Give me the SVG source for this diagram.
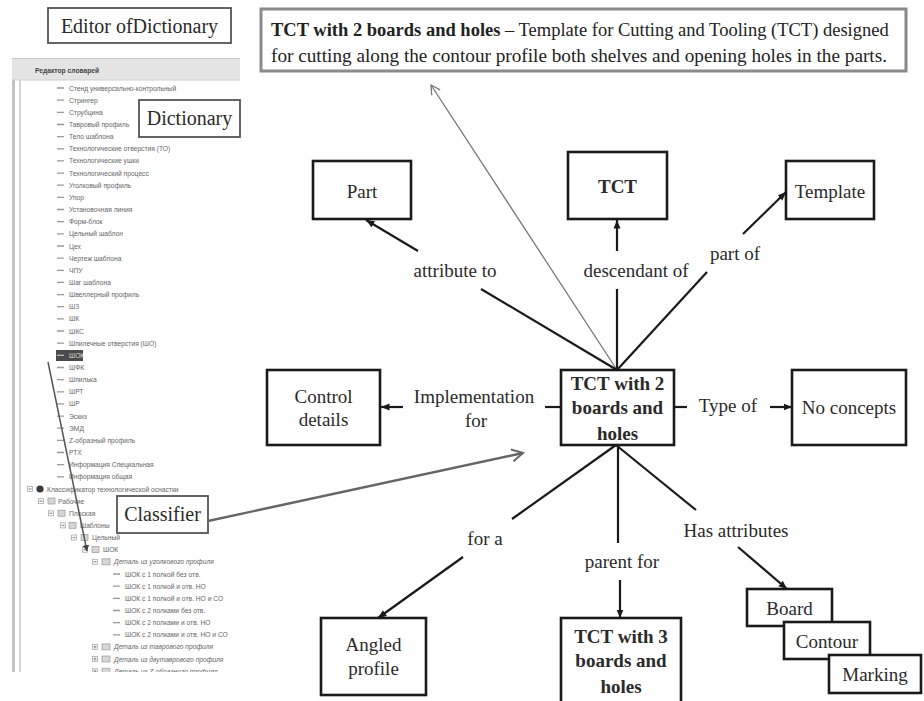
<svg xmlns="http://www.w3.org/2000/svg" width="924" height="701" viewBox="0 0 924 701">
<defs>
<style>
.box{fill:#fff;stroke:#1a1a1a;stroke-width:2.6}
.cap{fill:#fff;stroke:#555;stroke-width:1.8}
.t{font-family:"Liberation Serif","Times New Roman",serif;font-size:19px;fill:#2a2a2a;text-anchor:middle}
.b{font-weight:bold}
.c{stroke:#1a1a1a;stroke-width:2.2;fill:none}
.ca{stroke:#1a1a1a;stroke-width:2.2;fill:none;marker-end:url(#ah)}
.g{font-family:"Liberation Sans",Arial,sans-serif;font-size:6.7px;fill:#666}
.gi{font-style:italic}
.d{stroke:#999;stroke-width:1.3;fill:none}
.ex{fill:#fff;stroke:#aaa;stroke-width:0.8}
.fo{fill:#d6d6d6;stroke:#999;stroke-width:0.7}
</style>
<marker id="ah" markerUnits="userSpaceOnUse" markerWidth="10" markerHeight="9" refX="8.5" refY="4" orient="auto"><path d="M0,0.5 L8.5,4 L0,7.5 z" fill="#1a1a1a"/></marker>
<marker id="open" markerUnits="userSpaceOnUse" markerWidth="16" markerHeight="16" refX="12" refY="7" orient="auto"><path d="M1,1 L12,7 L1,13" fill="none" stroke="#666" stroke-width="2"/></marker>
<marker id="open2" markerUnits="userSpaceOnUse" markerWidth="14" markerHeight="14" refX="10" refY="6" orient="auto"><path d="M1,1 L10,6 L1,11" fill="none" stroke="#777" stroke-width="1.3"/></marker>
<marker id="sm" markerUnits="userSpaceOnUse" markerWidth="8" markerHeight="8" refX="6" refY="3.5" orient="auto"><path d="M0,0 L6,3.5 L0,7 z" fill="#444"/></marker>
<clipPath id="pc"><rect x="10" y="56" width="232" height="616"/></clipPath>
</defs>
<rect width="924" height="701" fill="#fff"/>

<!-- screenshot of the dictionary editor -->
<g id="screenshot" clip-path="url(#pc)">
<rect x="12" y="58" width="228" height="22" fill="#e4e4e4"/>
<line x1="12" y1="58.5" x2="240" y2="58.5" stroke="#c8c8c8" stroke-width="1"/>
<line x1="12" y1="80" x2="240" y2="80" stroke="#d0d0d0" stroke-width="1"/>
<text x="35" y="72.5" class="g" style="font-weight:bold;fill:#444">Редактор словарей</text>
<rect x="12" y="80" width="3" height="592" fill="#c4c4c4"/>
<rect x="19" y="80" width="2" height="592" fill="#d4d4d4"/>
<path class="d" d="M57,88h7M57,100.2h7M57,112.3h7M57,124.5h7M57,136.6h7M57,148.8h7M57,160.9h7M57,173.1h7M57,185.2h7M57,197.4h7M57,209.5h7M57,221.7h7M57,233.8h7M57,246h7M57,258.1h7M57,270.3h7M57,282.4h7M57,294.6h7M57,306.7h7M57,318.9h7M57,331h7M57,343.2h7M57,367.5h7M57,379.6h7M57,391.8h7M57,403.9h7M57,416.1h7M57,428.2h7M57,440.4h7M57,452.5h7M57,464.7h7M57,476.8h7M113,574h7M113,586.2h7M113,598.3h7M113,610.5h7M113,622.6h7M113,634.8h7"/>
<text class="g" x="69" y="90.5">Стенд универсально-контрольный</text>
<text class="g" x="69" y="102.6">Стрингер</text>
<text class="g" x="69" y="114.8">Струбцина</text>
<text class="g" x="69" y="127">Тавровый профиль</text>
<text class="g" x="69" y="139.1">Тело шаблона</text>
<text class="g" x="69" y="151.3">Технологические отверстия (ТО)</text>
<text class="g" x="69" y="163.4">Технологические ушки</text>
<text class="g" x="69" y="175.6">Технологический процесс</text>
<text class="g" x="69" y="187.7">Уголковый профиль</text>
<text class="g" x="69" y="199.9">Упор</text>
<text class="g" x="69" y="212">Установочная линия</text>
<text class="g" x="69" y="224.2">Форм-блок</text>
<text class="g" x="69" y="236.3">Цельный шаблон</text>
<text class="g" x="69" y="248.5">Цех</text>
<text class="g" x="69" y="260.6">Чертеж шаблона</text>
<text class="g" x="69" y="272.8">ЧПУ</text>
<text class="g" x="69" y="284.9">Шаг шаблона</text>
<text class="g" x="69" y="297.1">Швеллерный профиль</text>
<text class="g" x="69" y="309.2">ШЗ</text>
<text class="g" x="69" y="321.4">ШК</text>
<text class="g" x="69" y="333.5">ШКС</text>
<text class="g" x="69" y="345.7">Шпилечные отверстия (ШО)</text>
<rect x="56" y="350" width="27" height="11" fill="#4a4a4a"/>
<line x1="57" y1="355.3" x2="64" y2="355.3" stroke="#bbb" stroke-width="1.3"/>
<text class="g" x="69" y="357.8" style="fill:#ddd">ШОК</text>
<text class="g" x="69" y="370">ШФК</text>
<text class="g" x="69" y="382.1">Шпилька</text>
<text class="g" x="69" y="394.3">ШРТ</text>
<text class="g" x="69" y="406.4">ШР</text>
<text class="g" x="69" y="418.6">Эскиз</text>
<text class="g" x="69" y="430.7">ЭМД</text>
<text class="g" x="69" y="442.9">Z-образный профиль</text>
<text class="g" x="69" y="455">РТХ</text>
<text class="g" x="69" y="467.2">Информация Специальная</text>
<text class="g" x="69" y="479.3">Информация общая</text>
<!-- classifier tree -->
<rect class="ex" x="27.5" y="486.5" width="5" height="5"/><path class="d" d="M28.5,489h3"/>
<circle cx="40" cy="489" r="3.6" fill="#3a3a3a"/>
<text class="g" x="47" y="491.5">Классификатор технологической оснастки</text>
<rect class="ex" x="38.5" y="498.6" width="5" height="5"/><path class="d" d="M39.5,501.1h3"/>
<rect class="fo" x="48" y="498" width="7" height="6"/>
<text class="g" x="58" y="503.6">Рабочие</text>
<rect class="ex" x="48.5" y="510.8" width="5" height="5"/><path class="d" d="M49.5,513.3h3"/>
<rect class="fo" x="58" y="510.2" width="7" height="6"/>
<text class="g" x="69" y="515.8">Плоская</text>
<rect class="ex" x="60.5" y="522.9" width="5" height="5"/><path class="d" d="M61.5,525.4h3"/>
<rect class="fo" x="69" y="522.3" width="7" height="6"/>
<text class="g" x="80" y="527.9">Шаблоны</text>
<rect class="ex" x="71.5" y="535" width="5" height="5"/><path class="d" d="M72.5,537.5h3"/>
<rect class="fo" x="81" y="534.5" width="7" height="6"/>
<text class="g" x="92" y="540">Цельный</text>
<rect class="ex" x="82.5" y="547.2" width="5" height="5"/><path class="d" d="M83.5,549.7h3"/>
<rect class="fo" x="92" y="546.6" width="7" height="6"/>
<text class="g" x="103" y="552.2">ШОК</text>
<rect class="ex" x="92.5" y="559.3" width="5" height="5"/><path class="d" d="M93.5,561.8h3"/>
<rect class="fo" x="102" y="558.8" width="8" height="6"/>
<text class="g gi" x="114" y="564.4">Деталь из уголкового профиля</text>
<text class="g" x="125" y="576.5">ШОК с 1 полкой без отв.</text>
<text class="g" x="125" y="588.7">ШОК с 1 полкой и отв. НО</text>
<text class="g" x="125" y="600.8">ШОК с 1 полкой и отв. НО и СО</text>
<text class="g" x="125" y="613">ШОК с 2 полками без отв.</text>
<text class="g" x="125" y="625.1">ШОК с 2 полками и отв. НО</text>
<text class="g" x="125" y="637.3">ШОК с 2 полками и отв. НО и СО</text>
<rect class="ex" x="92.5" y="644.4" width="5" height="5"/><path class="d" d="M93.5,646.9h3M95,645.4v3"/>
<rect class="fo" x="102" y="643.9" width="8" height="6"/>
<text class="g gi" x="114" y="649.4">Деталь из таврового профиля</text>
<rect class="ex" x="92.5" y="656.6" width="5" height="5"/><path class="d" d="M93.5,659.1h3M95,657.6v3"/>
<rect class="fo" x="102" y="656" width="8" height="6"/>
<text class="g gi" x="114" y="661.6">Деталь из двутаврового профиля</text>
<rect class="ex" x="92.5" y="668.7" width="5" height="5"/><path class="d" d="M93.5,671.2h3M95,669.7v3"/>
<rect class="fo" x="102" y="668.2" width="8" height="6"/>
<text class="g gi" x="114" y="673.7">Деталь из Z-образного профиля</text>
<line x1="48" y1="362" x2="87" y2="551" stroke="#555" stroke-width="1.5" marker-end="url(#sm)"/>
</g>

<!-- caption boxes -->
<g id="editor-caption"><rect class="cap" x="48" y="8" width="183" height="35"/><text class="t" x="139.5" y="33" style="font-size:20px">Editor ofDictionary</text></g>
<g id="dictionary-caption"><rect class="cap" x="139" y="100" width="101" height="37"/><text class="t" x="189.5" y="125" style="font-size:20px">Dictionary</text></g>
<g id="classifier-caption"><rect class="cap" x="117" y="496" width="91" height="37"/><text class="t" x="162.5" y="521" style="font-size:20px">Classifier</text></g>

<g id="definition">
<rect x="261" y="9" width="645" height="62" fill="#fff" stroke="#8a8a8a" stroke-width="3"/>
<text x="271" y="36" style="font-family:'Liberation Serif','Times New Roman',serif;font-size:18.5px;fill:#222"><tspan font-weight="bold">TCT with 2 boards and holes</tspan> – Template for Cutting and Tooling (TCT) designed</text>
<text x="271" y="62" textLength="616" lengthAdjust="spacingAndGlyphs" style="font-family:'Liberation Serif','Times New Roman',serif;font-size:18.5px;fill:#222">for cutting along the contour profile both shelves and opening holes in the parts.</text>
</g>

<!-- connectors -->
<g id="connectors">
<line x1="617" y1="370" x2="431" y2="85" stroke="#777" stroke-width="1.3" marker-end="url(#open2)"/>
<line class="c" x1="617" y1="370" x2="481" y2="289"/>
<line class="ca" x1="418" y1="251" x2="366" y2="220"/>
<line class="c" x1="617" y1="370" x2="617" y2="289"/>
<line class="ca" x1="617" y1="251" x2="617" y2="220"/>
<line class="c" x1="617" y1="370" x2="707" y2="272"/>
<line class="ca" x1="743" y1="234" x2="786" y2="192"/>
<line class="c" x1="561" y1="407" x2="545" y2="407"/>
<line class="ca" x1="403" y1="407" x2="381" y2="407"/>
<line class="c" x1="674" y1="407" x2="687" y2="407"/>
<line class="ca" x1="770" y1="407" x2="792" y2="407"/>
<line class="c" x1="616" y1="445" x2="512" y2="519"/>
<line class="ca" x1="463" y1="557" x2="378" y2="618"/>
<line class="c" x1="618" y1="445" x2="618" y2="543"/>
<line class="ca" x1="620" y1="580" x2="620" y2="618"/>
<line class="c" x1="616" y1="445" x2="696" y2="510"/>
<line class="ca" x1="738" y1="547" x2="787" y2="589"/>
<line x1="208" y1="521" x2="523" y2="453" stroke="#666" stroke-width="2.4" marker-end="url(#open)"/>
<text class="t" x="455" y="277">attribute to</text>
<text class="t" x="636" y="277">descendant of</text>
<text class="t" x="735" y="260">part of</text>
<text class="t" x="474" y="403">Implementation</text>
<text class="t" x="476" y="427">for</text>
<text class="t" x="728" y="412">Type of</text>
<text class="t" x="485" y="545">for a</text>
<text class="t" x="622" y="568">parent for</text>
<text class="t" x="736" y="537">Has attributes</text>
</g>

<!-- nodes -->
<g id="node-part"><rect class="box" x="313" y="161" width="98" height="58"/><text class="t" x="362" y="198">Part</text></g>
<g id="node-tct"><rect class="box" x="568" y="152" width="99" height="67"/><text class="t b" x="617.5" y="193">TCT</text></g>
<g id="node-template"><rect class="box" x="786" y="161" width="88" height="58"/><text class="t" x="830" y="198">Template</text></g>
<g id="node-control"><rect class="box" x="267" y="370" width="113" height="75"/><text class="t" x="323.5" y="403">Control</text><text class="t" x="323.5" y="426">details</text></g>
<g id="node-center"><rect class="box" x="561" y="370" width="113" height="75"/><text class="t b" x="617.5" y="390">TCT with 2</text><text class="t b" x="617.5" y="414">boards and</text><text class="t b" x="617.5" y="440">holes</text></g>
<g id="node-noconcepts"><rect class="box" x="792" y="370" width="114" height="75"/><text class="t" x="849" y="414">No concepts</text></g>
<g id="node-angled"><rect class="box" x="321" y="618" width="105" height="77"/><text class="t" x="373.5" y="651">Angled</text><text class="t" x="373.5" y="675">profile</text></g>
<g id="node-tct3"><rect class="box" x="561" y="618" width="120" height="90"/><text class="t b" x="621" y="643">TCT with 3</text><text class="t b" x="621" y="667">boards and</text><text class="t b" x="621" y="693">holes</text></g>
<g id="node-board"><rect class="box" x="747" y="589" width="85" height="37"/><text class="t" x="789.5" y="615">Board</text></g>
<g id="node-contour"><rect class="box" x="784" y="622" width="86" height="37"/><text class="t" x="827" y="648">Contour</text></g>
<g id="node-marking"><rect class="box" x="829" y="655" width="92" height="38"/><text class="t" x="875" y="681">Marking</text></g>
</svg>
